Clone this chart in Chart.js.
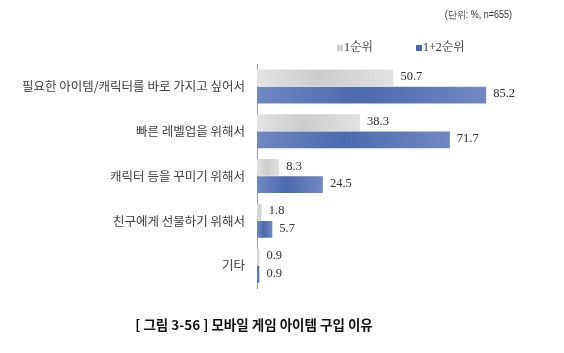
<!DOCTYPE html>
<html><head><meta charset="utf-8">
<script src="https://cdn.jsdelivr.net/npm/chart.js@4"></script>
<style>html,body{margin:0;padding:0;background:#fff;}#wrap{width:564px;height:353px;position:relative;}</style>
</head><body><div id="wrap"><canvas id="c" width="564" height="353"></canvas></div>
<script>
const categories = ['필요한 아이템/캐릭터를 바로 가지고 싶어서','빠른 레벨업을 위해서','캐릭터 등을 꾸미기 위해서','친구에게 선물하기 위해서','기타'];
const seriesNames = ['1순위','1+2순위'];
const rank1 = [50.7, 38.3, 8.3, 1.8, 0.9];
const rank12 = [85.2, 71.7, 24.5, 5.7, 0.9];
const unitText = '(단위: %, n=655)';
const captionText = '[ 그림 3-56 ] 모바일 게임 아이템 구입 이유';

const grayStops = ['#e3e3e3','#cccccc','#e2e2e2'];
const blueStops = ['#6f88c2','#4b69ae','#7189c2'];

function grad(stops, fallback){
  return function(ctx){
    const chart = ctx.chart; const xs = chart.scales.x;
    if(!chart.chartArea || !xs || ctx.parsed == null) return fallback;
    const x0 = xs.getPixelForValue(0), x1 = xs.getPixelForValue(ctx.parsed.x);
    if (x1 - x0 < 1) return fallback;
    const g = chart.ctx.createLinearGradient(x0,0,x1,0);
    g.addColorStop(0,stops[0]); g.addColorStop(0.45,stops[1]); g.addColorStop(1,stops[2]);
    return g;
  };
}

const extras = {
  id:'extras',
  afterDatasetsDraw(chart){
    const c = chart.ctx;
    c.save();
    c.font = '12.5px "Liberation Serif", serif';
    c.fillStyle = '#333';
    c.textBaseline = 'middle';
    c.textAlign = 'left';
    chart.data.datasets.forEach((ds,i)=>{
      chart.getDatasetMeta(i).data.forEach((bar,j)=>{
        c.fillText(ds.data[j].toFixed(1), bar.x + 7, bar.y - 1);
      });
    });
    c.restore();
  },
  afterDraw(chart){
    const c = chart.ctx;
    c.save();
    // unit text
    c.font = '10px "Liberation Sans", sans-serif';
    c.fillStyle = '#333'; c.textAlign='right'; c.textBaseline='middle';
    c.translate(512, 15); c.scale(0.9, 1);
    c.fillText(unitText, 0, 0);
    c.setTransform(1,0,0,1,0,0);
    // legend
    c.font = '12px "Liberation Serif", "Noto Serif CJK KR", serif';
    c.textAlign='left';
    c.fillStyle = '#d0d0d0'; c.fillRect(337,45,6,6);
    c.fillStyle = '#333'; c.fillText(seriesNames[0], 344, 48);
    c.fillStyle = '#4b69ae'; c.fillRect(416,45,6,6);
    c.fillStyle = '#333'; c.fillText(seriesNames[1], 423, 48);
    // caption
    c.font = 'bold 13.5px "Noto Sans CJK KR", sans-serif';
    c.fillStyle = '#111'; c.textAlign='center';
    c.fillText(captionText, 254, 325);
    c.restore();
  }
};

new Chart(document.getElementById('c'), {
  type:'bar',
  data:{
    labels: categories,
    datasets:[
      {label:seriesNames[0], data:rank1, backgroundColor:grad(grayStops,'#d6d6d6'), borderWidth:0, categoryPercentage:0.77, barPercentage:0.97},
      {label:seriesNames[1], data:rank12, backgroundColor:grad(blueStops,'#5a75b5'), borderWidth:0, categoryPercentage:0.77, barPercentage:0.97}
    ]
  },
  plugins:[extras],
  options:{
    indexAxis:'y',
    responsive:false,
    animation:false,
    events:[],
    layout:{padding:{top:64,bottom:65,right:38,left:0}},
    plugins:{legend:{display:false},tooltip:{enabled:false},title:{display:false}},
    scales:{
      x:{display:false,min:0,max:100},
      y:{
        afterFit(s){ s.width = 257; },
        grid:{display:false,drawTicks:false},
        border:{display:true,color:'#9a9a9a',width:1},
        ticks:{padding:12,color:'#404040',font:{size:12.5,family:'"Noto Sans CJK KR", sans-serif'}}
      }
    }
  }
});
</script></body></html>
